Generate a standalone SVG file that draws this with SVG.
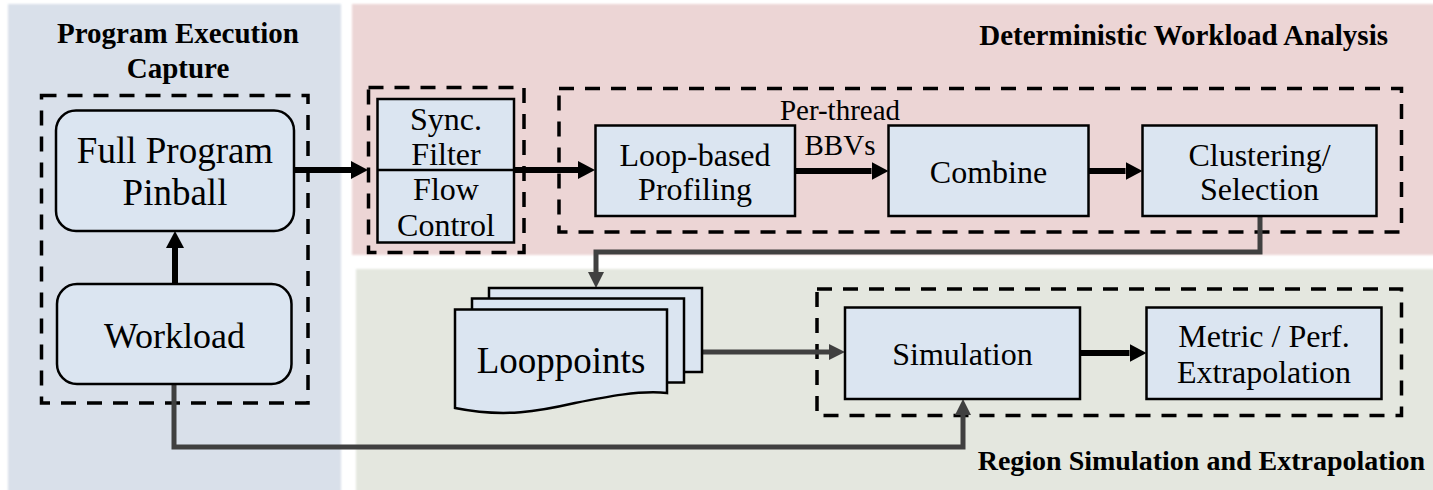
<svg xmlns="http://www.w3.org/2000/svg" width="1433" height="490" viewBox="0 0 1433 490">
  <style>
    .panel { stroke: none; }
    .box { fill: #dbe5f1; stroke: #000; stroke-width: 2.5; }
    .group { fill: none; stroke: #000; stroke-width: 3.5; stroke-dasharray: 15 11; }
    .t { font-family: "Liberation Serif", "Times New Roman", serif; fill: #000; text-anchor: middle; }
    .lg { font-size: 37px; }
    .md { font-size: 32px; }
    .sm { font-size: 29px; }
    .title { font-family: "Liberation Serif", "Times New Roman", serif; font-weight: bold; font-size: 29px; fill: #000; }
    .flow { fill: none; stroke: #000; stroke-width: 6; }
    .feed { fill: none; stroke: #404040; stroke-width: 5; stroke-linejoin: miter; }
  </style>
  <defs>
    <filter id="soft" x="-2%" y="-2%" width="104%" height="104%">
      <feGaussianBlur stdDeviation="1.2"/>
    </filter>
    <marker id="headBlack" markerUnits="userSpaceOnUse" markerWidth="18" markerHeight="18" refX="0" refY="9" orient="auto">
      <path d="M0,0 L17,9 L0,18 z" fill="#000"/>
    </marker>
    <marker id="headGrey" markerUnits="userSpaceOnUse" markerWidth="17" markerHeight="17" refX="0" refY="8" orient="auto">
      <path d="M0,0 L16,8 L0,16 z" fill="#404040"/>
    </marker>
  </defs>

  <rect width="1433" height="490" fill="#ffffff"/>

  <!-- stage backgrounds -->
  <g id="stages" filter="url(#soft)">
    <rect class="panel" x="8" y="4" width="333" height="500" fill="#d9e0ea"/>
    <rect class="panel" x="352" y="4" width="1090" height="251" fill="#ecd5d5"/>
    <rect class="panel" x="356" y="269" width="1090" height="230" fill="#e4e7df"/>
  </g>

  <!-- stage titles -->
  <g id="titles">
    <text class="title" x="178" y="43" text-anchor="middle">Program Execution</text>
    <text class="title" x="178" y="78" text-anchor="middle">Capture</text>
    <text class="title" x="1388" y="45" text-anchor="end">Deterministic Workload Analysis</text>
    <text class="title" x="1425" y="470" text-anchor="end" style="font-size:28px">Region Simulation and Extrapolation</text>
  </g>

  <!-- dashed groupings -->
  <g id="groups">
    <rect class="group" x="41.5" y="95.5" width="266.5" height="307.5"/>
    <rect class="group" x="368.5" y="87.5" width="155.5" height="165"/>
    <rect class="group" x="559" y="88.5" width="842.5" height="143.5"/>
    <rect class="group" x="817" y="289" width="584.5" height="126.5"/>
  </g>

  <!-- connectors -->
  <g id="connectors">
    <path class="flow" d="M294,170 H351" marker-end="url(#headBlack)"/>
    <path class="flow" d="M514,170 H578" marker-end="url(#headBlack)"/>
    <path class="flow" d="M795,171 H871.5" marker-end="url(#headBlack)"/>
    <path class="flow" d="M1088.5,171 H1125.5" marker-end="url(#headBlack)"/>
    <path class="flow" d="M175,284 V248" marker-end="url(#headBlack)"/>
    <path class="flow" d="M1080,353 H1129.5" marker-end="url(#headBlack)"/>
    <path class="feed" d="M1260,216 V252 H596 V272" marker-end="url(#headGrey)"/>
    <path class="feed" d="M702,352 H829" marker-end="url(#headGrey)"/>
    <path class="feed" d="M174,384 V447 H963 V415" marker-end="url(#headGrey)"/>
    <text class="t sm" x="840" y="120">Per-thread</text>
    <text class="t sm" x="840" y="155">BBVs</text>
  </g>

  <g id="full-program-pinball">
    <rect class="box" x="56" y="110.5" width="238" height="120.5" rx="20"/>
    <text class="t lg" x="175" y="163">Full Program</text>
    <text class="t lg" x="175" y="205">Pinball</text>
  </g>

  <g id="workload">
    <rect class="box" x="57" y="284" width="234.5" height="100" rx="20"/>
    <text class="t" x="174.5" y="348" style="font-size:36px">Workload</text>
  </g>

  <g id="sync-filter-flow-control">
    <rect class="box" x="377.5" y="99" width="136.5" height="143.5"/>
    <line x1="377.5" y1="170" x2="514" y2="170" stroke="#000" stroke-width="2.5"/>
    <text class="t md" x="446" y="130">Sync.</text>
    <text class="t md" x="446" y="165">Filter</text>
    <text class="t md" x="446" y="200">Flow</text>
    <text class="t md" x="446" y="236">Control</text>
  </g>

  <g id="loop-based-profiling">
    <rect class="box" x="595.5" y="125.5" width="199.5" height="90.5"/>
    <text class="t md" x="695" y="165.5">Loop-based</text>
    <text class="t md" x="695" y="200">Profiling</text>
  </g>

  <g id="combine">
    <rect class="box" x="888.5" y="125.5" width="200" height="90.5"/>
    <text class="t md" x="988.5" y="183">Combine</text>
  </g>

  <g id="clustering-selection">
    <rect class="box" x="1142.5" y="125.5" width="234" height="90.5"/>
    <text class="t md" x="1259.5" y="165.5">Clustering/</text>
    <text class="t md" x="1259.5" y="200">Selection</text>
  </g>

  <g id="looppoints">
    <rect class="box" x="489" y="288" width="213" height="84"/>
    <rect class="box" x="472" y="298.5" width="212" height="84"/>
    <path class="box" d="M455,309.5 H667 V393 C640,390 605,397 575,403 C540,411 505,418 455,408 Z"/>
    <text class="t lg" x="561" y="373">Looppoints</text>
  </g>

  <g id="simulation">
    <rect class="box" x="845" y="307.5" width="235" height="91.5"/>
    <text class="t md" x="962.5" y="365">Simulation</text>
  </g>

  <g id="metric-extrapolation">
    <rect class="box" x="1146.5" y="307.5" width="235" height="91.5"/>
    <text class="t md" x="1264" y="346.5">Metric / Perf.</text>
    <text class="t md" x="1264" y="383">Extrapolation</text>
  </g>
</svg>
